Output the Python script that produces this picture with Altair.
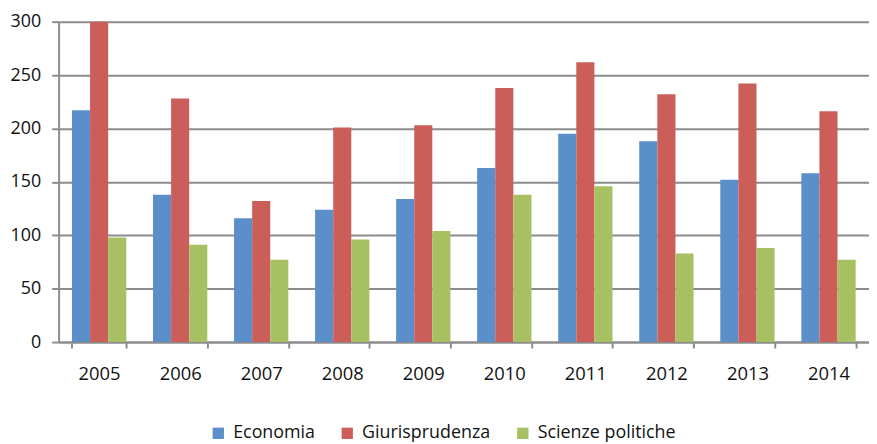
import altair as alt
import pandas as pd

years = ["2005", "2006", "2007", "2008", "2009", "2010", "2011", "2012", "2013", "2014"]
series = ["Economia", "Giurisprudenza", "Scienze politiche"]
economia = [217, 138, 116, 124, 134, 163, 195, 188, 152, 158]
giurisprudenza = [300, 228, 132, 201, 203, 238, 262, 232, 242, 216]
scienze_politiche = [98, 91, 77, 96, 104, 138, 146, 83, 88, 77]
colors = ["#5A8FCA", "#CC5E59", "#A7C062"]

rows = []
for i, y in enumerate(years):
    for s, vals in zip(series, [economia, giurisprudenza, scienze_politiche]):
        rows.append({"anno": y, "serie": s, "valore": vals[i]})
df = pd.DataFrame(rows)

FONT = "Open Sans"

chart = alt.Chart(df).mark_bar().encode(
    x=alt.X("anno:N", sort=years, title=None,
            scale=alt.Scale(paddingInner=0.33, paddingOuter=0.165),
            axis=alt.Axis(labelAngle=0, labelFontSize=18.5, labelFont=FONT, labelColor="#111",
                          domainColor="#8c8c8c", domainWidth=2, tickColor="#8c8c8c", tickWidth=2,
                          tickSize=6, tickBand="extent", labelPadding=17, grid=False)),
    xOffset=alt.XOffset("serie:N", sort=series, scale=alt.Scale(paddingInner=0, paddingOuter=0)),
    y=alt.Y("valore:Q", title=None,
            scale=alt.Scale(domain=[0, 300], nice=False),
            axis=alt.Axis(values=[0, 50, 100, 150, 200, 250, 300], labelFontSize=18, labelFont=FONT,
                          labelColor="#111", domainColor="#8c8c8c", domainWidth=2,
                          tickColor="#8c8c8c", tickWidth=2, tickSize=7, labelPadding=11,
                          gridColor="#8c8c8c", gridWidth=2, gridOpacity=1)),
    color=alt.Color("serie:N", sort=series, scale=alt.Scale(domain=series, range=colors),
                    legend=alt.Legend(title=None, orient="none", direction="horizontal",
                                      legendX=152, legendY=406, symbolType="square",
                                      symbolSize=130, symbolStrokeWidth=0, symbolOpacity=1,
                                      labelFont=FONT, labelFontSize=18, labelColor="#111",
                                      columnPadding=23, labelOffset=6)),
).properties(
    width=817, height=323,
    autosize=alt.AutoSizeParams(type="none"),
    padding={"left": 51, "top": 12, "right": 0, "bottom": 101},
).configure_view(stroke=None).configure_axisY(zindex=0)

chart.save("out.html", embed_options={"renderer": "svg", "actions": False})
